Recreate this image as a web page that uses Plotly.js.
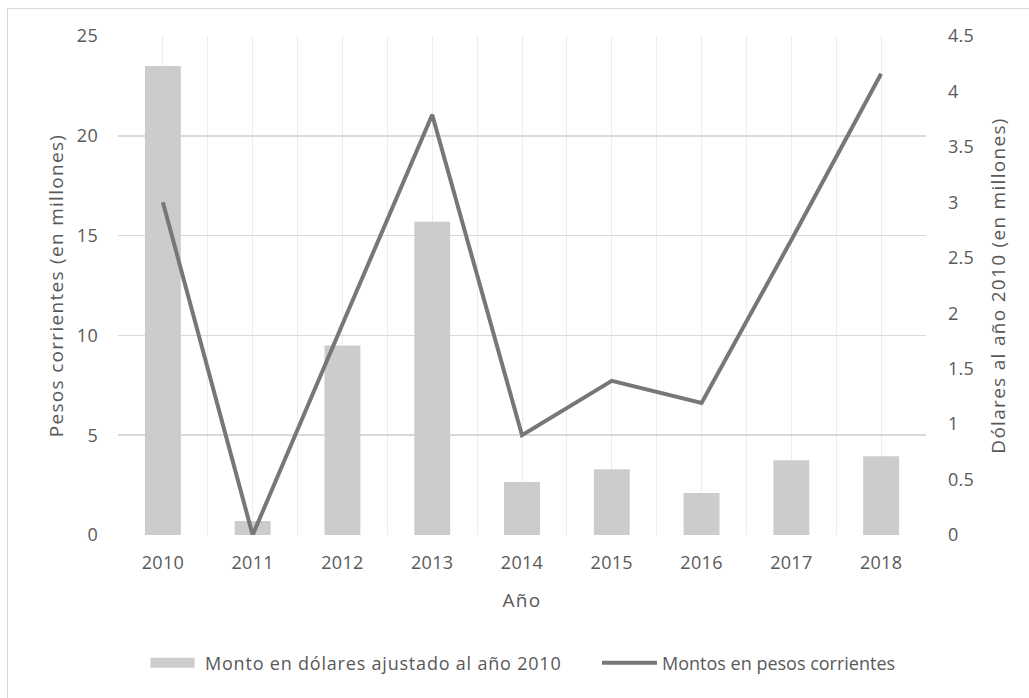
<!DOCTYPE html>
<html>
<head>
<meta charset="utf-8">
<script src="https://cdn.plot.ly/plotly-3.0.1.min.js"></script>
<style>
html,body{margin:0;padding:0;background:#fff;}
#frame{position:absolute;left:7px;top:8px;width:1040px;height:720px;border-left:1px solid #d9d9d9;border-top:1px solid #d9d9d9;}
#chart{position:absolute;left:0;top:0;width:1029px;height:698px;}
.xtick text, .ytick text, .y2tick text {letter-spacing:0.3px;}
text.xtitle, text.ytitle, text.y2title {letter-spacing:1.3px;}
text.legendtext {letter-spacing:0.8px;}
</style>
</head>
<body>
<div id="frame"></div>
<div id="chart"></div>
<script>
// Data
var years = ['2010','2011','2012','2013','2014','2015','2016','2017','2018'];
var barName = 'Monto en dólares ajustado al año 2010';
var lineName = 'Montos en pesos corrientes';
// bar heights in left-axis units
var barValues = [23.5, 0.7, 9.5, 15.7, 2.65, 3.3, 2.1, 3.75, 3.95];
// line values in right-axis units
var lineValues = [3.0, 0.0, 1.9, 3.79, 0.9, 1.39, 1.19, 2.66, 4.16];
var leftTitle = 'Pesos corrientes (en millones)';
var rightTitle = 'Dólares al año 2010 (en millones)';
var xTitle = 'Año';

var xs = years.map(function(y){ return Number(y); });
var tickVals = [], tickText = [];
for (var i = 0; i < years.length; i++) {
  tickVals.push(xs[i] - 0.5); tickText.push('');
  tickVals.push(xs[i]); tickText.push(years[i]);
}
tickVals.push(xs[xs.length-1] + 0.5); tickText.push('');

var fam = 'Open Sans, sans-serif';
var tickFont = {family: fam, size: 18, color: '#595959'};
var titleFont = {family: fam, size: 19, color: '#595959'};
var legendFont = {family: fam, size: 18, color: '#595959'};

var traces = [
  {type: 'bar', x: xs, y: barValues, name: barName, yaxis: 'y', legend: 'legend',
   width: 0.4, marker: {color: '#cccccc'}, hoverinfo: 'skip'},
  {type: 'scatter', mode: 'lines', x: xs, y: lineValues, name: lineName, yaxis: 'y2', legend: 'legend2',
   line: {color: '#777777', width: 4}, hoverinfo: 'skip'}
];

function legendAt(px) {
  return {orientation: 'h', xref: 'container', x: px / 1029, xanchor: 'left',
          yref: 'container', y: 1 - 663 / 698, yanchor: 'middle',
          font: legendFont, itemwidth: 55, bgcolor: 'rgba(0,0,0,0)'};
}

var layout = {
  width: 1029, height: 698,
  margin: {l: 118, r: 103, t: 36, b: 163},
  paper_bgcolor: 'rgba(0,0,0,0)', plot_bgcolor: '#fff',
  font: tickFont,
  showlegend: true,
  legend: legendAt(140),
  legend2: legendAt(597),
  xaxis: {range: [2009.5, 2018.5], tickmode: 'array', tickvals: tickVals, ticktext: tickText,
          showgrid: true, gridcolor: '#ececec', gridwidth: 1, zeroline: false,
          showline: false, ticks: '', ticklabelstandoff: 15, tickfont: tickFont,
          title: {text: xTitle, font: titleFont, standoff: 20}, automargin: false, fixedrange: true},
  yaxis: {range: [0, 25], dtick: 5, showgrid: true, gridcolor: '#d9d9d9', gridwidth: 1.5,
          zeroline: false, showline: false, ticks: '', ticklabelstandoff: 19, tickfont: tickFont,
          title: {text: leftTitle, font: titleFont, standoff: 8}, automargin: false, fixedrange: true},
  yaxis2: {range: [0, 4.5], dtick: 0.5, overlaying: 'y', side: 'right', showgrid: false,
           zeroline: false, showline: false, ticks: '', ticklabelstandoff: 21, tickfont: tickFont,
           title: {text: rightTitle, font: titleFont, standoff: 18}, automargin: false, fixedrange: true}
};

Plotly.newPlot('chart', traces, layout, {displayModeBar: false, staticPlot: true}).then(function(gd){
  // widen the bar legend swatch into a flat rectangle like the original
  var p = gd.querySelector('.legend .traces .legendpoints path');
  if (p) p.setAttribute('d', 'M22,5H-22V-5H22Z');
});
</script>
</body>
</html>
